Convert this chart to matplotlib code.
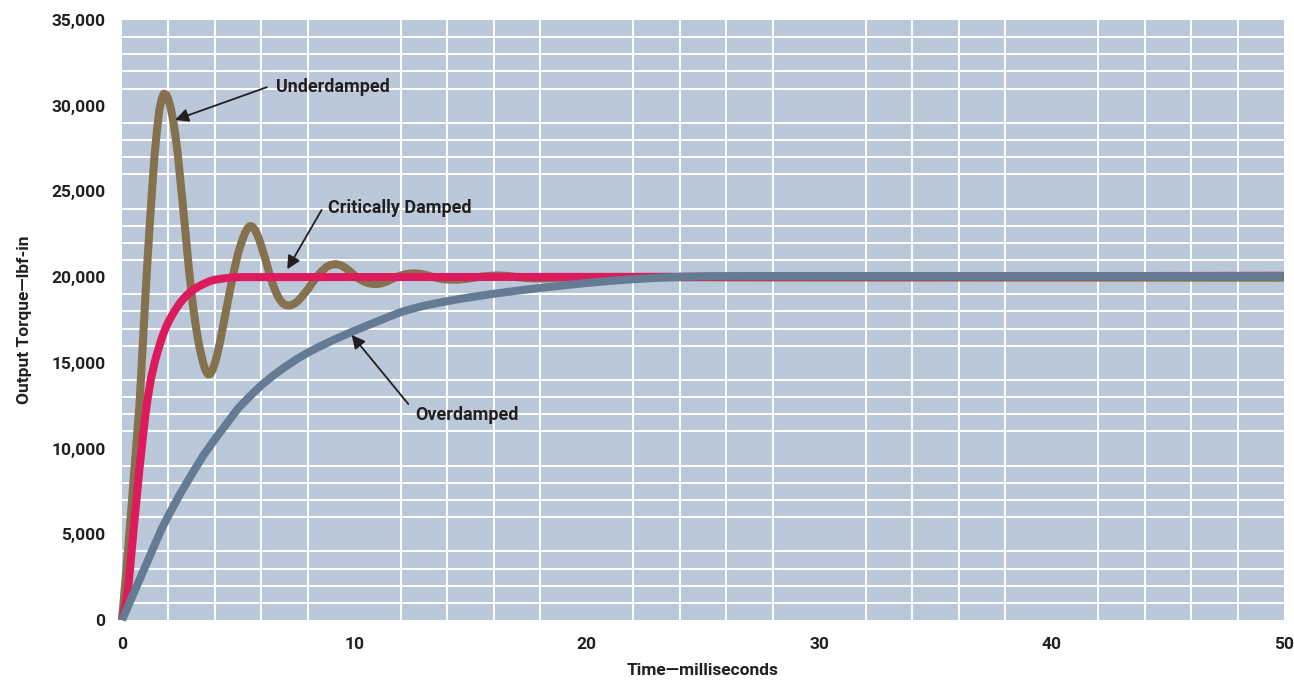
import matplotlib
matplotlib.use("Agg")
import matplotlib.pyplot as plt
from matplotlib.ticker import FixedLocator, FuncFormatter
import numpy as np

# ---- data ----
under_t = [0, 0.25, 0.5, 0.75, 1.0, 1.1, 1.2, 1.3, 1.4, 1.5, 1.6, 1.7, 1.8, 1.9,
           2.0, 2.1, 2.2, 2.3, 2.4, 2.5, 2.6, 2.7, 2.8, 2.9, 3.0, 3.1, 3.2, 3.3,
           3.4, 3.5, 3.6, 3.7, 3.8, 3.9, 4.0, 4.1, 4.2, 4.3, 4.4, 4.5, 4.6, 4.7,
           4.8, 4.9, 5.0, 5.1, 5.2, 5.3, 5.4, 5.5, 5.6, 5.7, 5.8, 5.9, 6.0, 6.1,
           6.2, 6.3, 6.4, 6.5, 6.6, 6.7, 6.8, 6.9, 7.0, 7.1, 7.2, 7.3, 7.45, 7.6,
           7.8, 8.0, 8.2, 8.4, 8.6, 8.8, 9.0, 9.2, 9.4, 9.6, 9.8, 10.0, 10.2,
           10.4, 10.6, 10.8, 11.0, 11.2, 11.4, 11.6, 11.8, 12.0, 12.2, 12.4, 12.6,
           12.8, 13.0, 13.2, 13.4, 13.6, 13.8, 14.0, 14.4, 14.8, 15.2, 15.6, 16.1,
           16.6, 17.0, 17.5, 18.0, 18.6, 19.2, 20.0, 30.0, 50.0]
under_v = [0, 3900, 8200, 12500, 18700, 21000, 23200, 25200, 27100, 28500, 29700,
           30350, 30700, 30650, 30350, 29850, 29150, 28250, 27200, 25800, 24450,
           23050, 21600, 20200, 18950, 17850, 16950, 16150, 15500, 14950, 14550,
           14330, 14350, 14600, 15000, 15500, 16100, 16800, 17500, 18200, 18900,
           19600, 20250, 20850, 21400, 21850, 22250, 22600, 22850, 22980, 22950,
           22800, 22550, 22200, 21800, 21350, 20900, 20400, 19950, 19550, 19200,
           18900, 18680, 18500, 18400, 18350, 18350, 18380, 18480, 18650, 18950,
           19300, 19700, 20050, 20350, 20600, 20720, 20760, 20700, 20550, 20350,
           20100, 19900, 19750, 19650, 19600, 19600, 19650, 19750, 19880, 20000,
           20100, 20170, 20210, 20220, 20200, 20150, 20080, 20000, 19940, 19890,
           19860, 19850, 19900, 19980, 20050, 20100, 20070, 20000, 19940, 19920,
           19950, 19990, 20000, 19980, 19970]

crit_t = [0, 0.15, 0.27, 0.4, 0.5, 0.6, 0.75, 0.9, 1.0, 1.1, 1.25, 1.4, 1.5, 1.6,
          1.75, 1.9, 2.0, 2.25, 2.5, 2.75, 3.0, 3.25, 3.5, 3.75, 4.0, 4.5, 5.0,
          25.0, 50.0]
crit_v = [0, 900, 1900, 3800, 5300, 6700, 8800, 10700, 11900, 12900, 14100, 15000,
          15500, 15950, 16600, 17100, 17400, 18000, 18500, 18900, 19200, 19420,
          19600, 19750, 19850, 19950, 20000, 20020, 20080]

over_t = [0, 1.7, 2.0, 2.5, 3.0, 3.5, 4.0, 4.5, 5.0, 5.5, 6.0, 6.5, 7.0, 7.5, 8.0,
          8.5, 9.0, 9.5, 10.0, 10.5, 11.0, 11.5, 12.0, 12.5, 13.0, 13.5, 14.0,
          14.5, 15.0, 16.0, 17.0, 18.0, 19.0, 20.0, 21.0, 22.0, 23.0, 24.0, 25.0,
          26.0, 50.0]
over_v = [0, 5300, 6100, 7350, 8500, 9600, 10550, 11450, 12350, 13050, 13700,
          14250, 14750, 15200, 15600, 15950, 16270, 16580, 16870, 17150, 17420,
          17700, 17960, 18160, 18330, 18470, 18600, 18720, 18830, 19030, 19210,
          19370, 19520, 19660, 19780, 19880, 19960, 20020, 20050, 20060, 20060]

x_ticks = [0, 10, 20, 30, 40, 50]
y_ticks = [0, 5000, 10000, 15000, 20000, 25000, 30000, 35000]

# ---- styling ----
FONT = ["Roboto", "DejaVu Sans"]
TXT = "#231f20"
BG = "#bac8da"

plt.rcParams["font.family"] = FONT

fig = plt.figure(figsize=(12.94, 6.82), dpi=100)
ax = fig.add_axes([122 / 1294, 1 - 620 / 682, (1284 - 122) / 1294, 600 / 682])
ax.set_facecolor(BG)

ax.set_xlim(0, 50)
ax.set_ylim(0, 35000)

for s in ax.spines.values():
    s.set_visible(False)

ax.xaxis.set_major_locator(FixedLocator(x_ticks))
ax.yaxis.set_major_locator(FixedLocator(y_ticks))
ax.xaxis.set_minor_locator(FixedLocator(np.arange(2, 50, 2)))
ax.yaxis.set_minor_locator(FixedLocator(np.arange(1000, 35000, 1000)))
ax.grid(False, which="major")
ax.grid(True, which="minor", color="white", linewidth=1.4)
ax.set_axisbelow(True)
ax.tick_params(which="both", length=0)
ax.tick_params(axis="y", pad=12)
ax.tick_params(axis="x", pad=12)
ax.yaxis.set_major_formatter(FuncFormatter(lambda v, p: f"{int(v):,}"))
for lab in ax.get_xticklabels() + ax.get_yticklabels():
    lab.set_fontweight("bold")
    lab.set_fontsize(12.5)
    lab.set_color(TXT)

lw = 5.8
common = dict(lw=lw, solid_capstyle="butt", solid_joinstyle="round", clip_on=False)
ax.plot(under_t, under_v, color="#86714f", zorder=3, **common)
ax.plot(crit_t, crit_v, color="#dc1a5c", zorder=4, **common)
ax.plot(over_t, over_v, color="#657b93", zorder=5, **common)

ax.set_xlabel("Time\u2014milliseconds", fontsize=12.5, fontweight="bold", color=TXT, labelpad=8)
ax.set_ylabel("Output Torque\u2014lbf-in", fontsize=12.5, fontweight="bold", color=TXT, labelpad=14)

arrow = dict(arrowstyle="-|>", color=TXT, lw=1.3, mutation_scale=20, shrinkA=0, shrinkB=0)
ann_kw = dict(fontsize=13, fontweight="bold", color=TXT, va="center", ha="left", zorder=6)

ax.annotate("", xy=(2.28, 29170), xytext=(6.23, 31080), arrowprops=arrow, zorder=6)
ax.text(6.61, 31080, "Underdamped", **ann_kw)

ax.annotate("", xy=(7.11, 20460), xytext=(8.59, 23920), arrowprops=arrow, zorder=6)
ax.text(8.88, 24020, "Critically Damped", **ann_kw)

ax.annotate("", xy=(9.88, 16630), xytext=(12.32, 12600), arrowprops=arrow, zorder=6)
ax.text(12.61, 11960, "Overdamped", **ann_kw)

fig.savefig("out.png", dpi=100)
